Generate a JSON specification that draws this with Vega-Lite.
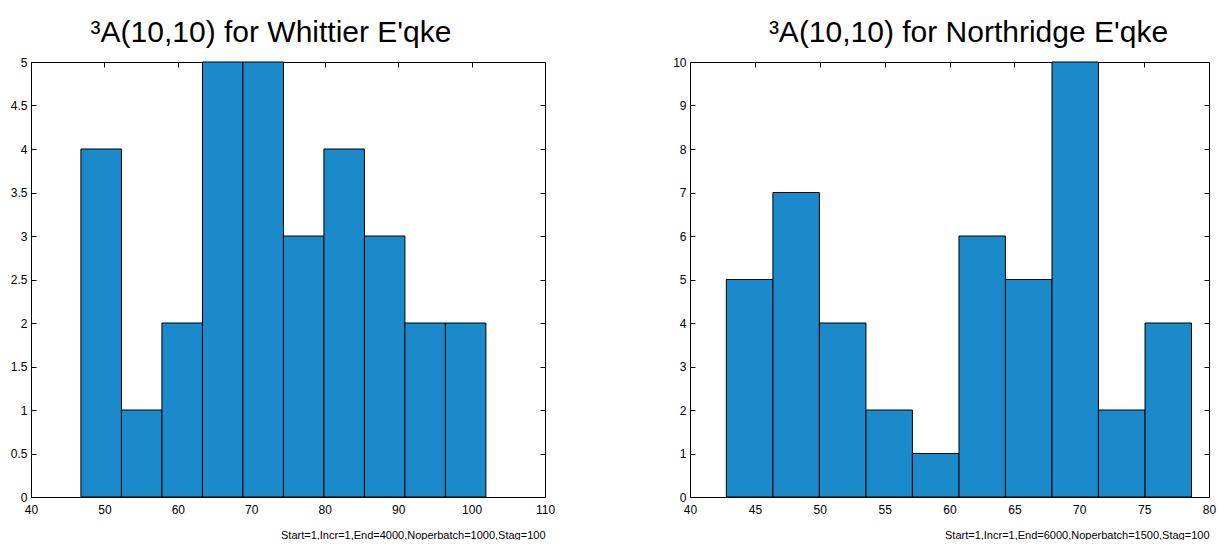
{
  "$schema": "https://vega.github.io/schema/vega-lite/v6.json",
  "background": "white",
  "padding": {"left": 10, "top": 18, "right": 5, "bottom": 0},
  "config": {
    "font": "Liberation Sans",
    "view": {"stroke": null},
    "axis": {
      "grid": false,
      "domainColor": "black",
      "domainWidth": 1,
      "tickColor": "black",
      "tickWidth": 1,
      "tickSize": -5,
      "labelColor": "black",
      "labelFont": "Liberation Sans",
      "labelFontSize": 12,
      "labelFlush": false,
      "labelOverlap": false,
      "titleColor": "black",
      "titleFont": "Liberation Sans",
      "titleFontWeight": "normal",
      "titleFontSize": 11
    },
    "title": {"font": "Liberation Sans", "fontWeight": "normal", "color": "black"}
  },
  "datasets": {
    "whittier": [
      {"start": 46.8, "end": 52.32, "count": 4},
      {"start": 52.32, "end": 57.83, "count": 1},
      {"start": 57.83, "end": 63.35, "count": 2},
      {"start": 63.35, "end": 68.86, "count": 5},
      {"start": 68.86, "end": 74.38, "count": 5},
      {"start": 74.38, "end": 79.89, "count": 3},
      {"start": 79.89, "end": 85.41, "count": 4},
      {"start": 85.41, "end": 90.92, "count": 3},
      {"start": 90.92, "end": 96.44, "count": 2},
      {"start": 96.44, "end": 101.95, "count": 2}
    ],
    "northridge": [
      {"start": 42.8, "end": 46.39, "count": 5},
      {"start": 46.39, "end": 49.97, "count": 7},
      {"start": 49.97, "end": 53.56, "count": 4},
      {"start": 53.56, "end": 57.14, "count": 2},
      {"start": 57.14, "end": 60.73, "count": 1},
      {"start": 60.73, "end": 64.31, "count": 6},
      {"start": 64.31, "end": 67.9, "count": 5},
      {"start": 67.9, "end": 71.48, "count": 10},
      {"start": 71.48, "end": 75.07, "count": 2},
      {"start": 75.07, "end": 78.65, "count": 4}
    ]
  },
  "spacing": 117,
  "hconcat": [
    {
      "width": 514,
      "height": 435,
      "title": {"text": "³A(10,10) for Whittier E'qke", "fontSize": 30, "baseline": "alphabetic", "offset": -16, "dx": -17},
      "data": {"name": "whittier"},
      "layer": [
        {
          "mark": {"type": "rect", "fill": "#1b8acb", "stroke": "black", "strokeWidth": 1},
          "encoding": {
            "x": {"field": "start", "type": "quantitative", "scale": {"domain": [40, 110], "nice": false, "zero": false},
                  "axis": {"orient": "bottom", "values": [40, 50, 60, 70, 80, 90, 100, 110], "format": "d", "labelPadding": 12,
                           "title": "Start=1,Incr=1,End=4000,Noperbatch=1000,Stag=100", "titleAnchor": "end", "titlePadding": 14}},
            "x2": {"field": "end"},
            "y": {"field": "count", "type": "quantitative", "scale": {"domain": [0, 5], "nice": false},
                  "axis": {"orient": "left", "values": [0, 0.5, 1, 1.5, 2, 2.5, 3, 3.5, 4, 4.5, 5], "format": "~g", "labelPadding": 9, "title": null}},
            "y2": {"datum": 0}
          }
        },
        {
          "mark": {"type": "rect", "opacity": 0},
          "encoding": {
            "x": {"field": "start", "type": "quantitative", "scale": {"domain": [40, 110], "nice": false, "zero": false},
                  "axis": {"orient": "top", "values": [40, 50, 60, 70, 80, 90, 100, 110], "labels": false, "title": null}},
            "x2": {"field": "end"},
            "y": {"field": "count", "type": "quantitative", "scale": {"domain": [0, 5], "nice": false},
                  "axis": {"orient": "right", "values": [0, 0.5, 1, 1.5, 2, 2.5, 3, 3.5, 4, 4.5, 5], "labels": false, "title": null}},
            "y2": {"datum": 0}
          }
        }
      ],
      "resolve": {"axis": {"x": "independent", "y": "independent"}}
    },
    {
      "width": 519,
      "height": 435,
      "title": {"text": "³A(10,10) for Northridge E'qke", "fontSize": 30, "baseline": "alphabetic", "offset": -16, "dx": 19},
      "data": {"name": "northridge"},
      "layer": [
        {
          "mark": {"type": "rect", "fill": "#1b8acb", "stroke": "black", "strokeWidth": 1},
          "encoding": {
            "x": {"field": "start", "type": "quantitative", "scale": {"domain": [40, 80], "nice": false, "zero": false},
                  "axis": {"orient": "bottom", "values": [40, 45, 50, 55, 60, 65, 70, 75, 80], "format": "d", "labelPadding": 12,
                           "title": "Start=1,Incr=1,End=6000,Noperbatch=1500,Stag=100", "titleAnchor": "end", "titlePadding": 14}},
            "x2": {"field": "end"},
            "y": {"field": "count", "type": "quantitative", "scale": {"domain": [0, 10], "nice": false},
                  "axis": {"orient": "left", "values": [0, 1, 2, 3, 4, 5, 6, 7, 8, 9, 10], "format": "d", "labelPadding": 9, "title": null}},
            "y2": {"datum": 0}
          }
        },
        {
          "mark": {"type": "rect", "opacity": 0},
          "encoding": {
            "x": {"field": "start", "type": "quantitative", "scale": {"domain": [40, 80], "nice": false, "zero": false},
                  "axis": {"orient": "top", "values": [40, 45, 50, 55, 60, 65, 70, 75, 80], "labels": false, "title": null}},
            "x2": {"field": "end"},
            "y": {"field": "count", "type": "quantitative", "scale": {"domain": [0, 10], "nice": false},
                  "axis": {"orient": "right", "values": [0, 1, 2, 3, 4, 5, 6, 7, 8, 9, 10], "labels": false, "title": null}},
            "y2": {"datum": 0}
          }
        }
      ],
      "resolve": {"axis": {"x": "independent", "y": "independent"}}
    }
  ]
}
